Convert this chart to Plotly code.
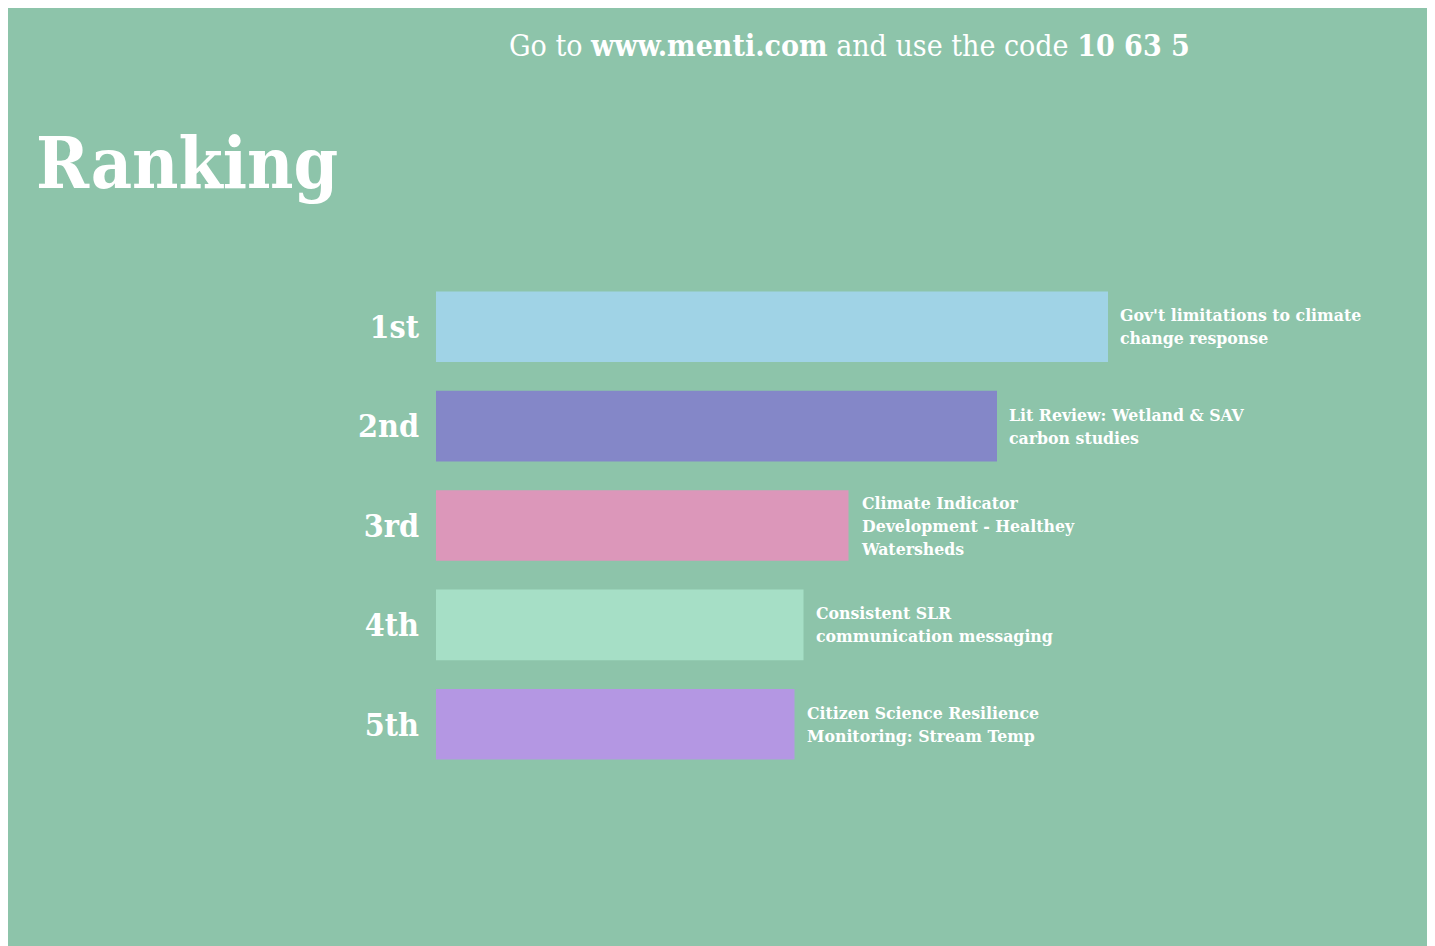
import plotly.graph_objects as go

ranks = ["1st", "2nd", "3rd", "4th", "5th"]
scores = [4.48, 3.74, 2.75, 2.45, 2.39]
items = [
    "Gov't limitations to climate<br>change response",
    "Lit Review: Wetland & SAV<br>carbon studies",
    "Climate Indicator<br>Development - Healthey<br>Watersheds",
    "Consistent SLR<br>communication messaging",
    "Citizen Science Resilience<br>Monitoring: Stream Temp",
]
colors = ["#A0D3E6", "#8487C8", "#DC97BA", "#A6DFC6", "#B497E3"]

BG = "#8DC4AA"
FONT = "DejaVu Serif Condensed, DejaVu Serif, serif"

OFF = 8  # page body margin
W, H = 1435 - OFF, 946 - OFF
L, R, T, B = 436 - OFF, 99, 277 - OFF, 172
pw, ph = W - L - R, H - T - B

def px(x):
    return (x - OFF - L) / pw

def py(y):
    return 1 - (y - OFF - T) / ph

fig = go.Figure(go.Bar(
    x=scores, y=ranks, orientation="h",
    marker=dict(color=colors, line=dict(width=0)),
    width=0.71, hoverinfo="skip",
))

annotations = []
for s, r, t in zip(scores, ranks, items):
    annotations.append(dict(
        x=s, y=r, xref="x", yref="y", text="<b>" + t + "</b>",
        xanchor="left", yanchor="middle", align="left", xshift=10,
        showarrow=False, font=dict(family=FONT, size=17.5, color="white"),
    ))

annotations.append(dict(
    x=px(849), y=py(46), xref="paper", yref="paper",
    text="Go to <b>www.menti.com</b> and use the code <b>10 63 5</b>",
    xanchor="center", yanchor="middle", showarrow=False,
    font=dict(family=FONT, size=30, color="white"),
))
annotations.append(dict(
    x=px(34), y=py(163), xref="paper", yref="paper",
    text="<b>Ranking</b>",
    xanchor="left", yanchor="middle", showarrow=False,
    font=dict(family=FONT, size=71, color="white"),
))

fig.update_layout(
    width=W, height=H,
    margin=dict(l=L, r=R, t=T, b=B),
    paper_bgcolor=BG, plot_bgcolor=BG,
    showlegend=False,
    xaxis=dict(range=[0, 6], visible=False, fixedrange=True),
    yaxis=dict(
        categoryorder="array", categoryarray=ranks, autorange="reversed",
        showgrid=False, zeroline=False, showline=False, ticks="",
        tickfont=dict(family=FONT, size=32, color="white", weight="bold"),
        ticklabelstandoff=16, fixedrange=True,
    ),
    annotations=annotations,
)

fig.write_html("out.html", config={"displayModeBar": False})
